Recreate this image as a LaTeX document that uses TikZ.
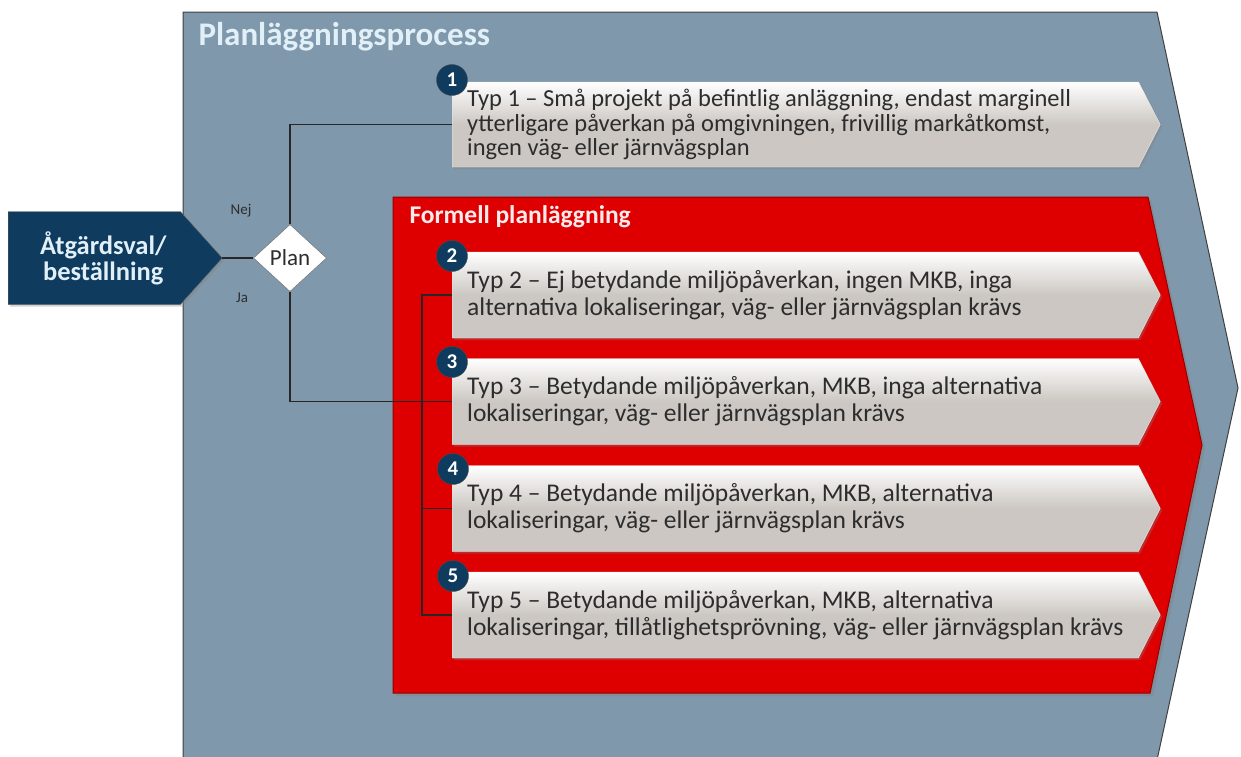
\documentclass[tikz,border=0pt]{standalone}
\usepackage{fontspec}
\setmainfont{Carlito}
\usetikzlibrary{positioning, calc, shapes.geometric, shapes.symbols, shadows}
\definecolor{procgray}{RGB}{127,152,171}
\definecolor{navyblue}{RGB}{14,59,94}
\definecolor{planred}{RGB}{222,0,0}
\definecolor{darkred}{RGB}{150,0,0}
\definecolor{boxgray}{RGB}{204,199,194}
\definecolor{textgray}{RGB}{45,45,45}
\definecolor{paleblue}{RGB}{225,240,248}

\tikzset{
  typbox/.style={signal, signal to=east, signal pointer angle=126,
    minimum width=708pt, minimum height=86pt, inner sep=0pt, anchor=west,
    top color=white, bottom color=boxgray, middle color=boxgray,
    draw=white!60!boxgray,
    drop shadow={opacity=0.35, shadow xshift=2pt, shadow yshift=-2pt}},
  typtext/.style={anchor=west, align=left, inner sep=0pt, text=textgray,
    font=\fontsize{25.5}{27}\selectfont},
  numdot/.style={circle, fill=navyblue, draw=black!70, minimum size=31pt,
    inner sep=0pt, text=white, font=\fontsize{21}{21}\selectfont\bfseries},
  link/.style={black!85, line width=1.4pt}
}

\begin{document}
\begin{tikzpicture}[x=1pt, y=-1pt]
  \useasboundingbox (0,0) rectangle (1241,756);
  \begin{scope}
  \clip (0,0) rectangle (1241,756);

  % Planning process area
  \fill[procgray] (183,760) -- (183,12) -- (1157,12) -- (1238,388) -- (1157,760) -- cycle;
  \draw[black!75, line width=1pt] (183,760) -- (183,12) -- (1157,12) -- (1238,388) -- (1157,760);
  \node[anchor=west, text=paleblue, font=\fontsize{33}{33}\selectfont\bfseries]
    (process) at (195,37) {Planläggningsprocess};

  % Formal planning area
  \fill[planred, draw=darkred, line width=1pt,
    drop shadow={opacity=0.4, shadow xshift=3pt, shadow yshift=-3pt}]
    (393,197) -- (1148,197) -- (1202,445) -- (1150,693) -- (393,693) -- cycle;
  \node[anchor=west, text=white!92!red, font=\fontsize{25.5}{25.5}\selectfont\bfseries]
    (formell) at (406,217) {Formell planläggning};

  % Start and decision
  \node[signal, signal to=east, signal pointer angle=96, minimum width=214pt,
    minimum height=93pt, anchor=west, fill=navyblue, draw=black!60, align=center,
    text=paleblue, font=\fontsize{26.5}{26}\selectfont\bfseries,
    drop shadow={opacity=0.35, shadow xshift=2pt, shadow yshift=-2pt}]
    (start) at (8,258) {\hspace*{18pt}Åtgärdsval/\\\hspace*{18pt}beställning};
  \node[diamond, fill=white, draw=black!60, minimum width=73pt, minimum height=67pt,
    inner sep=0pt, font=\fontsize{23}{23}\selectfont, text=textgray]
    (plan) at (290,258) {Plan};
  \node[font=\fontsize{15}{15}\selectfont, text=textgray] (nej) at (241,211) {Nej};
  \node[font=\fontsize{15}{15}\selectfont, text=textgray] (ja) at (242,298) {Ja};

  % Planning types
  \node[typbox, minimum height=85pt] (typ1) at (452,124.5) {};
  \node[typbox] (typ2) at (452,295) {};
  \node[typbox] (typ3) at (452,401.5) {};
  \node[typbox] (typ4) at (452,508.5) {};
  \node[typbox] (typ5) at (452,615) {};

  \node[typtext, font=\fontsize{24.5}{24.5}\selectfont] (txt1) at ([xshift=15pt]typ1.west)
    {Typ 1 – Små projekt på befintlig anläggning, endast marginell\\
     ytterligare påverkan på omgivningen, frivillig markåtkomst,\\
     ingen väg- eller järnvägsplan};
  \node[typtext] (txt2) at ([xshift=15pt]typ2.west)
    {Typ 2 – Ej betydande miljöpåverkan, ingen MKB, inga\\
     alternativa lokaliseringar, väg- eller järnvägsplan krävs};
  \node[typtext] (txt3) at ([xshift=15pt]typ3.west)
    {Typ 3 – Betydande miljöpåverkan, MKB, inga alternativa\\
     lokaliseringar, väg- eller järnvägsplan krävs};
  \node[typtext] (txt4) at ([xshift=15pt]typ4.west)
    {Typ 4 – Betydande miljöpåverkan, MKB, alternativa\\
     lokaliseringar, väg- eller järnvägsplan krävs};
  \node[typtext] (txt5) at ([xshift=15pt]typ5.west)
    {Typ 5 – Betydande miljöpåverkan, MKB, alternativa\\
     lokaliseringar, tillåtlighetsprövning, väg- eller järnvägsplan krävs};

  % Numbers
  \node[numdot] (num1) at (452,80) {1};
  \node[numdot] (num2) at (452,256) {2};
  \node[numdot] (num3) at (452,362) {3};
  \node[numdot] (num4) at (453,469) {4};
  \node[numdot] (num5) at (453,576) {5};

  % Connectors
  \draw[link] (start.east) -- (plan.west);
  \draw[link] (plan.north) |- (typ1.west);
  \draw[link] (plan.south) |- (typ3.west);
  \coordinate (bracket) at ([xshift=-30pt]typ2.west);
  \draw[link] (typ2.west) -- (bracket) |- (typ5.west);
  \draw[link] (bracket |- typ4.west) -- (typ4.west);
  \end{scope}
\end{tikzpicture}
\end{document}
